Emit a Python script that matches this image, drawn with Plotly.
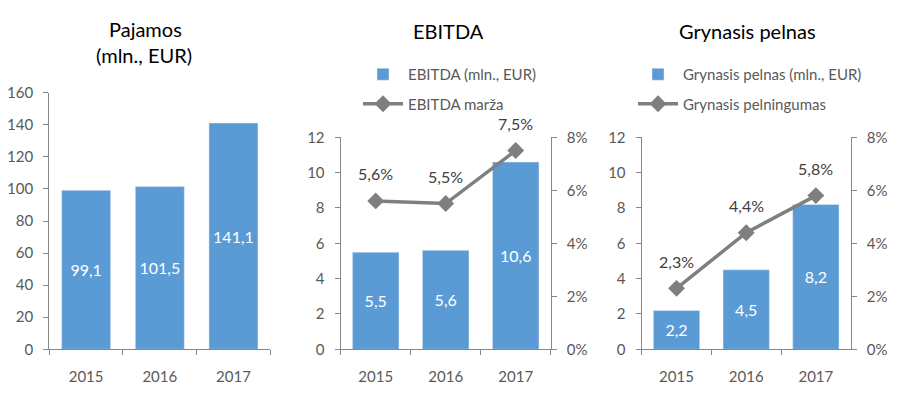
import plotly.graph_objects as go

years = ["2015", "2016", "2017"]
revenue = [99.1, 101.5, 141.1]
ebitda = [5.5, 5.6, 10.6]
ebitda_margin = [5.6, 5.5, 7.5]
net_profit = [2.2, 4.5, 8.2]
net_margin = [2.3, 4.4, 5.8]

BLUE = "#5B9BD5"
GRAY = "#7F7F7F"
AX = "#868686"
TXT = "#595959"
FONT = "Lato, 'Open Sans', sans-serif"

W, H = 899, 399
OFF = 8  # page body margin offset of the plot div


def px(x):
    return (x - OFF) / W


def py(y):
    return 1 - (y - OFF) / H


fig = go.Figure()

bar_common = dict(marker=dict(color=BLUE), texttemplate="%{y:.1f}", textposition="inside",
                  insidetextanchor="middle", textangle=0,
                  textfont=dict(color="white", size=16, family=FONT), hoverinfo="x+y")
line_common = dict(mode="lines+markers", line=dict(color=GRAY, width=3.5),
                   marker=dict(symbol="diamond", size=13, color=GRAY))

fig.add_trace(go.Bar(x=years, y=revenue, xaxis="x", yaxis="y", showlegend=False,
                     name="Pajamos (mln., EUR)", **bar_common))
fig.add_trace(go.Bar(x=years, y=ebitda, xaxis="x2", yaxis="y2", name="EBITDA (mln., EUR)",
                     legend="legend", legendgroup="a", **bar_common))
fig.add_trace(go.Scatter(x=years, y=ebitda_margin, xaxis="x2", yaxis="y3", name="EBITDA marža",
                         legend="legend", legendgroup="b", **line_common))
fig.add_trace(go.Bar(x=years, y=net_profit, xaxis="x3", yaxis="y4", name="Grynasis pelnas (mln., EUR)",
                     legend="legend2", legendgroup="c", **bar_common))
fig.add_trace(go.Scatter(x=years, y=net_margin, xaxis="x3", yaxis="y5", name="Grynasis pelningumas",
                         legend="legend2", legendgroup="d", **line_common))

tickfont = dict(family=FONT, size=15, color=TXT)


def xax(d0, d1, anchor):
    return dict(type="category", domain=[px(d0), px(d1)], anchor=anchor, showline=True,
                range=[-0.5, len(years) - 0.5], autorange=False,
                linecolor=AX, linewidth=1.3, ticks="outside", tickson="boundaries", ticklen=5,
                tickcolor=AX, tickfont=tickfont, showgrid=False, fixedrange=True,
                ticklabelstandoff=14, tickangle=0, automargin=False)


def yax(rng, dtick, anchor, side="left", suffix="", overlaying=None, y0=349.3, y1=137.3):
    d = dict(domain=[py(y0), py(y1)], anchor=anchor, range=rng, dtick=dtick, side=side,
             showline=True, linecolor=AX, linewidth=1.3, ticks="outside", ticklen=5, tickcolor=AX,
             tickfont=tickfont, showgrid=False, zeroline=False, ticksuffix=suffix, fixedrange=True,
             ticklabelstandoff=7, automargin=False)
    if overlaying:
        d["overlaying"] = overlaying
    return d


fig.update_layout(
    width=W, height=H, margin=dict(l=0, r=0, t=0, b=0, pad=0, autoexpand=False),
    paper_bgcolor="white", plot_bgcolor="white",
    separators=", ", bargap=0.335,
    font=dict(family=FONT, color=TXT),
    xaxis=xax(49.3, 270.3, "y"),
    yaxis=yax([0, 160], 20, "x", y1=92.7),
    xaxis2=xax(340.7, 550.7, "y2"),
    yaxis2=yax([0, 12], 2, "x2"),
    yaxis3=yax([0, 8], 2, "x2", side="right", suffix="%", overlaying="y2"),
    xaxis3=xax(641.7, 850.7, "y4"),
    yaxis4=yax([0, 12], 2, "x3"),
    yaxis5=yax([0, 8], 2, "x3", side="right", suffix="%", overlaying="y4"),
    legend=dict(x=px(358), y=py(58), xanchor="left", yanchor="top", orientation="v",
                font=dict(family=FONT, size=15, color=TXT), tracegroupgap=7,
                bgcolor="rgba(0,0,0,0)", itemwidth=40),
    legend2=dict(x=px(633), y=py(58), xanchor="left", yanchor="top", orientation="v",
                 font=dict(family=FONT, size=15, color=TXT), tracegroupgap=7,
                 bgcolor="rgba(0,0,0,0)", itemwidth=40),
)

title_font = dict(family=FONT, size=20, color="#000000")
fig.add_annotation(text="Pajamos", x=px(145), y=py(29), xref="paper", yref="paper",
                   showarrow=False, font=title_font, xanchor="center", yanchor="middle")
fig.add_annotation(text="(mln., EUR)", x=px(144), y=py(55), xref="paper", yref="paper",
                   showarrow=False, font=title_font, xanchor="center", yanchor="middle")
fig.add_annotation(text="EBITDA", x=px(448), y=py(31), xref="paper", yref="paper",
                   showarrow=False, font=title_font, xanchor="center", yanchor="middle")
fig.add_annotation(text="Grynasis pelnas", x=px(747), y=py(31), xref="paper", yref="paper",
                   showarrow=False, font=title_font, xanchor="center", yanchor="middle")

lab_font = dict(family=FONT, size=16, color="#404040")
for xr, yr, vals in (("x2", "y3", ebitda_margin), ("x3", "y5", net_margin)):
    for i, v in enumerate(vals):
        fig.add_annotation(x=i, y=v, xref=xr, yref=yr, text=f"{v:.1f}%".replace(".", ","),
                           showarrow=False, yshift=27, font=lab_font)

fig.write_html("out.html")
